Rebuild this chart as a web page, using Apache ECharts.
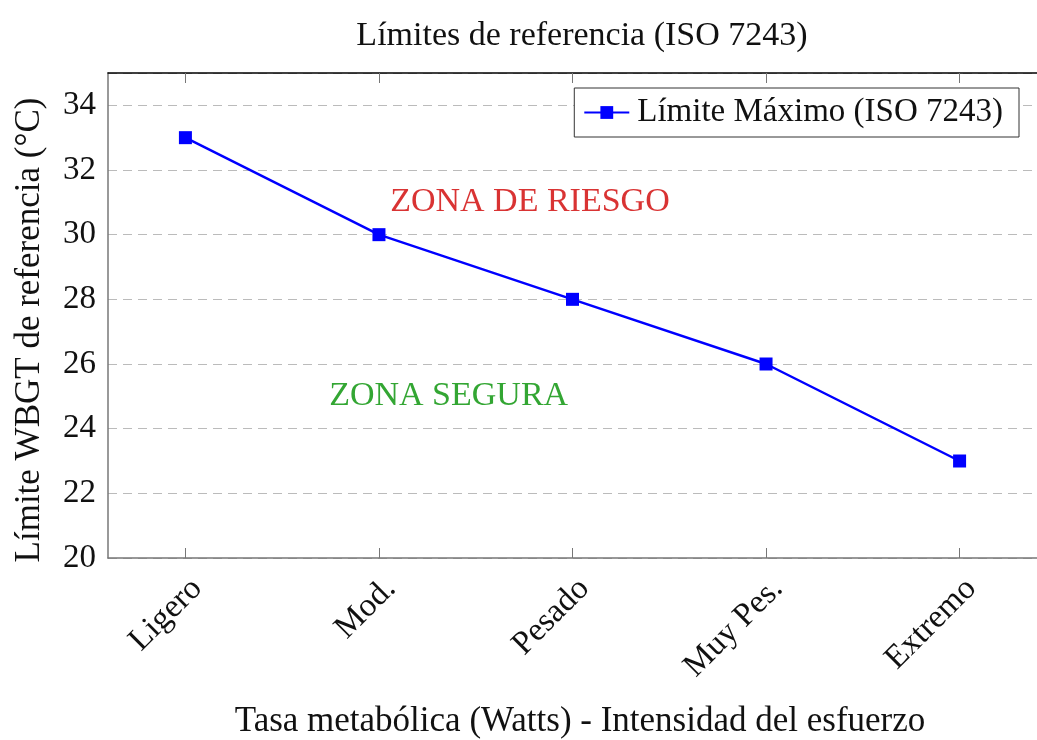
<!DOCTYPE html>
<html>
<head>
<meta charset="utf-8">
<title>Límites de referencia (ISO 7243)</title>
<script src="https://cdn.jsdelivr.net/npm/echarts@6/dist/echarts.min.js"></script>
<style>
  html, body { margin: 0; padding: 0; background: #fff; overflow: hidden; }
  #chart { width: 1037px; height: 740px; }
</style>
</head>
<body>
<div id="chart"></div>
<script>
// categorías de intensidad (eje x)
var categorias = ['Ligero', 'Mod.', 'Pesado', 'Muy Pes.', 'Extremo'];
// límite WBGT de referencia (°C)
var limiteMax = [33, 30, 28, 26, 23];
// marcas del eje y
var ticksY = [20, 22, 24, 26, 28, 30, 32, 34];
// anotaciones de zona: [x, y, texto]
var zonaRiesgo = [1.78, 31, 'ZONA DE RIESGO'];
var zonaSegura = [1.36, 25, 'ZONA SEGURA'];

var FONT = 'Liberation Serif';
var idx = categorias.map(function (c, i) { return i; });

var chart = echarts.init(document.getElementById('chart'), null, { renderer: 'canvas' });

var option = {
  backgroundColor: '#fff',
  animation: false,
  textStyle: { fontFamily: FONT, color: '#111' },
  title: {
    text: 'Límites de referencia (ISO 7243)',
    left: 577,
    textAlign: 'center',
    top: 14,
    textStyle: { fontFamily: FONT, fontSize: 34, fontWeight: 'normal', color: '#111' }
  },
  legend: {
    data: ['Límite Máximo (ISO 7243)'],
    right: 18,
    top: 88,
    padding: [8, 16, 8, 9],
    borderColor: '#333',
    borderWidth: 1,
    backgroundColor: '#fff',
    itemWidth: 45,
    itemHeight: 16,
    itemGap: 4,
    textStyle: { fontFamily: FONT, fontSize: 33, color: '#111', padding: [0, 0, 0, 3] }
  },
  grid: { left: 108, right: -11, top: 73, bottom: 182, containLabel: false },
  xAxis: [{
    type: 'value',
    min: -0.4,
    max: 4.4,
    axisLine: { show: true, onZero: false, lineStyle: { color: '#777', width: 1.5 } },
    axisTick: { show: true, inside: true, length: 10, customValues: idx, lineStyle: { color: '#777' } },
    axisLabel: {
      customValues: idx,
      rotate: 45,
      margin: 14,
      verticalAlign: 'top',
      fontFamily: FONT,
      fontSize: 33,
      color: '#111',
      formatter: function (v) { return categorias[Math.round(v)]; }
    },
    splitLine: { show: false }
  }, {
    type: 'value',
    position: 'top',
    min: -0.4,
    max: 4.4,
    axisLine: { show: true, onZero: false, lineStyle: { color: '#000', width: 1.5 } },
    axisTick: { show: true, inside: true, length: 10, customValues: idx, lineStyle: { color: '#777' } },
    axisLabel: { show: false },
    splitLine: { show: false }
  }],
  yAxis: {
    type: 'value',
    min: 20,
    max: 35,
    interval: 2,
    axisLine: { show: true, onZero: false, lineStyle: { color: '#777', width: 1.5 } },
    axisTick: { show: false },
    axisLabel: {
      customValues: ticksY,
      margin: 12,
      fontFamily: FONT,
      fontSize: 33,
      color: '#111'
    },
    splitLine: {
      show: true,
      lineStyle: { color: '#bbb', type: [9, 6], width: 1.2 }
    }
  },
  graphic: [{
    type: 'text',
    x: 580,
    y: 722,
    style: {
      text: 'Tasa metabólica (Watts) - Intensidad del esfuerzo',
      font: '35px "Liberation Serif"',
      fill: '#111',
      align: 'center',
      verticalAlign: 'middle'
    }
  }, {
    type: 'text',
    x: 30,
    y: 330,
    rotation: Math.PI / 2,
    style: {
      text: 'Límite WBGT de referencia (°C)',
      font: '35px "Liberation Serif"',
      fill: '#111',
      align: 'center',
      verticalAlign: 'middle'
    }
  }],
  series: [{
    name: 'Límite Máximo (ISO 7243)',
    type: 'line',
    data: limiteMax.map(function (v, i) { return [i, v]; }),
    symbol: 'rect',
    symbolSize: 13,
    lineStyle: { color: '#0000ff', width: 2.5 },
    itemStyle: { color: '#0000ff' },
    z: 3
  }, {
    name: 'zonas',
    type: 'scatter',
    silent: true,
    symbolSize: 0,
    data: [
      { value: [zonaRiesgo[0], zonaRiesgo[1]], name: zonaRiesgo[2], label: { color: '#d00000' } },
      { value: [zonaSegura[0], zonaSegura[1]], name: zonaSegura[2], label: { color: '#009000' } }
    ],
    label: {
      show: true,
      position: 'inside',
      fontFamily: FONT,
      fontSize: 34,
      formatter: function (p) { return p.name; }
    }
  }]
};

chart.setOption(option);
</script>
</body>
</html>
